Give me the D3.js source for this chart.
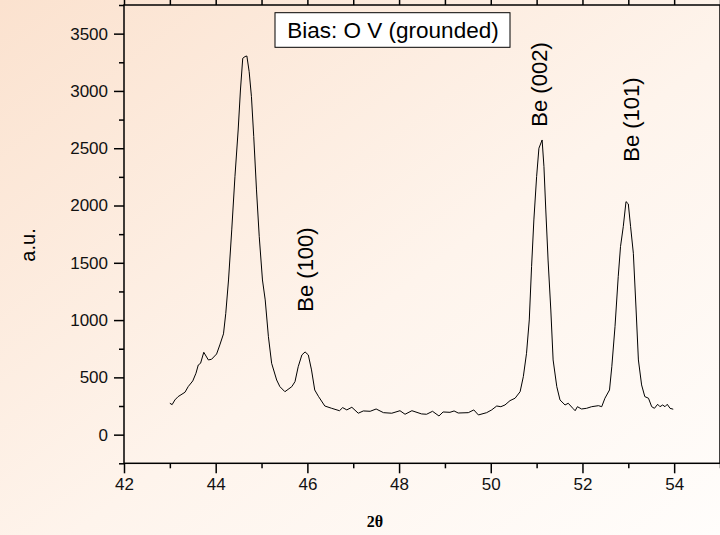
<!DOCTYPE html>
<html>
<head>
<meta charset="utf-8">
<script src="https://cdn.jsdelivr.net/npm/d3@7"></script>
<style>
  html, body { margin: 0; padding: 0; }
  body { width: 720px; height: 535px; overflow: hidden; }
  svg { display: block; }
</style>
</head>
<body>
<svg id="chart" width="720" height="535"></svg>
<script>
// ---- data ----
const twoTheta = [
  43.00, 43.05, 43.11, 43.18, 43.33, 43.40, 43.50, 43.57, 43.62, 43.67, 43.74, 43.84, 43.91, 44.02, 44.09, 44.17,
  44.22, 44.28, 44.35, 44.42, 44.49, 44.54, 44.59, 44.64, 44.68, 44.73, 44.78, 44.83, 44.89, 44.95, 45.02, 45.08,
  45.15, 45.22, 45.33, 45.40, 45.51, 45.66, 45.73, 45.80, 45.88, 45.95, 46.02, 46.09, 46.16, 46.24, 46.38, 46.53,
  46.70, 46.77, 46.86, 46.97, 47.11, 47.22, 47.37, 47.50, 47.66, 47.84, 48.02, 48.13, 48.28, 48.49, 48.60, 48.73,
  48.87, 48.96, 49.11, 49.20, 49.29, 49.51, 49.63, 49.73, 49.91, 50.02, 50.13, 50.22, 50.31, 50.42, 50.53, 50.64,
  50.71, 50.78, 50.84, 50.89, 50.94, 51.00, 51.05, 51.12, 51.16, 51.20, 51.25, 51.31, 51.36, 51.44, 51.51, 51.62,
  51.69, 51.79, 51.84, 51.89, 51.98, 52.09, 52.20, 52.35, 52.42, 52.49, 52.59, 52.64, 52.71, 52.78, 52.83, 52.89,
  52.95, 53.00, 53.05, 53.11, 53.17, 53.22, 53.29, 53.36, 53.44, 53.51, 53.57, 53.64, 53.69, 53.75, 53.80, 53.85,
  53.91, 53.98
];
const intensity = [
  274, 262, 303, 332, 370, 419, 469, 536, 608, 623, 719, 652, 658, 704, 783, 880,
  1059, 1350, 1787, 2252, 2659, 3008, 3285, 3300, 3305, 3168, 2950, 2601, 2136, 1728, 1350, 1176,
  855, 623, 477, 419, 375, 419, 463, 593, 696, 722, 696, 565, 390, 335, 250, 230,
  209, 236, 216, 239, 187, 207, 204, 224, 192, 187, 209, 178, 209, 181, 178, 204,
  163, 198, 195, 207, 189, 192, 216, 172, 192, 216, 250, 244, 259, 297, 318, 375,
  506, 710, 1001, 1466, 1874, 2252, 2500, 2572, 2339, 1961, 1524, 1088, 652, 419, 303, 259,
  274, 230, 209, 244, 224, 230, 244, 253, 244, 318, 390, 593, 943, 1379, 1641, 1815,
  2034, 2014, 1815, 1583, 1088, 652, 434, 332, 318, 244, 230, 265, 244, 259, 244, 265,
  230, 222
];
const xTicks = [42, 44, 46, 48, 50, 52, 54];
const xMinorTicks = [43, 45, 47, 49, 51, 53, 55];
const yTicks = [0, 500, 1000, 1500, 2000, 2500, 3000, 3500];
const yMinorTicks = [-250, 250, 750, 1250, 1750, 2250, 2750, 3250, 3750];
const peakLabels = ["Be (100)", "Be (002)", "Be (101)"];
const peakLabelPos = [45.95, 51.05, 53.06];
const peakLabelValue = [1073, 2688, 2382];
const titleText = "Bias: O V (grounded)";
const xTitle = "2θ";
const yTitle = "a.u.";

// ---- layout ----
const svg = d3.select("#chart");
const L = 124, R = 720, T = 5, B = 463.3;

const defs = svg.append("defs");
const grad = defs.append("linearGradient").attr("id", "bg")
  .attr("x1", "0%").attr("y1", "0%").attr("x2", "100%").attr("y2", "100%");
grad.append("stop").attr("offset", "0%").attr("stop-color", "#fbe2cf");
grad.append("stop").attr("offset", "55%").attr("stop-color", "#fef4ec");
grad.append("stop").attr("offset", "100%").attr("stop-color", "#fffdfb");
svg.append("rect").attr("width", 720).attr("height", 535).attr("fill", "url(#bg)");

const x = d3.scaleLinear().domain([42, 55]).range([L, R]);
const y = d3.scaleLinear().domain([-250, 3750]).range([B, T]);

const font = "'Liberation Sans', Arial, Helvetica, sans-serif";

// bottom axis
svg.append("g").attr("transform", `translate(0,${B})`)
  .call(d3.axisBottom(x).tickValues(xTicks).tickSize(10).tickPadding(5).tickFormat(d3.format("d")));
svg.append("g").attr("transform", `translate(0,${B})`)
  .call(d3.axisBottom(x).tickValues(xMinorTicks).tickSize(5).tickFormat(""));
// top axis (ticks only)
svg.append("g").attr("transform", `translate(0,${T})`)
  .call(d3.axisTop(x).tickValues(xTicks.concat(xMinorTicks)).tickSize(5).tickFormat(""));
// left axis
svg.append("g").attr("transform", `translate(${L},0)`)
  .call(d3.axisLeft(y).tickValues(yTicks).tickSize(10).tickPadding(6).tickFormat(d3.format("d")));
svg.append("g").attr("transform", `translate(${L},0)`)
  .call(d3.axisLeft(y).tickValues(yMinorTicks).tickSize(5).tickFormat(""));

svg.selectAll(".domain").remove();
svg.selectAll(".tick line").attr("stroke", "#000").attr("stroke-width", 1.5);
svg.selectAll(".tick text").attr("fill", "#111").style("font-family", font).style("font-size", "17px");

// frame
svg.append("rect").attr("x", L).attr("y", T).attr("width", R - L).attr("height", B - T)
  .attr("fill", "none").attr("stroke", "#000").attr("stroke-width", 1.5);

// data line
const pts = twoTheta.map((t, i) => [t, intensity[i]]);
svg.append("path").datum(pts)
  .attr("fill", "none").attr("stroke", "#000").attr("stroke-width", 1)
  .attr("d", d3.line().x(d => x(d[0])).y(d => y(d[1])));

// title box
const tb = svg.append("g");
tb.append("rect").attr("x", 275).attr("y", 12.7).attr("width", 235).attr("height", 34.6)
  .attr("fill", "#fff").attr("stroke", "#000").attr("stroke-width", 1);
tb.append("text").attr("x", 393).attr("y", 37.5).attr("text-anchor", "middle")
  .style("font-family", font).style("font-size", "22.5px").attr("fill", "#000").text(titleText);

// peak labels
peakLabels.forEach((lab, i) => {
  const px = x(peakLabelPos[i]) + 8, py = y(peakLabelValue[i]);
  svg.append("text").attr("transform", `translate(${px},${py}) rotate(-90)`)
    .style("font-family", font).style("font-size", "22px").attr("fill", "#000").text(lab);
});

// axis titles
svg.append("text").attr("transform", "translate(35,245) rotate(-90)").attr("text-anchor", "middle")
  .style("font-family", font).style("font-size", "20px").attr("fill", "#000").text(yTitle);
svg.append("text").attr("x", 375).attr("y", 527).attr("text-anchor", "middle")
  .style("font-family", "'Liberation Serif', 'Times New Roman', serif").style("font-weight", "bold")
  .style("font-size", "16px").attr("fill", "#000").text(xTitle);
</script>
</body>
</html>
